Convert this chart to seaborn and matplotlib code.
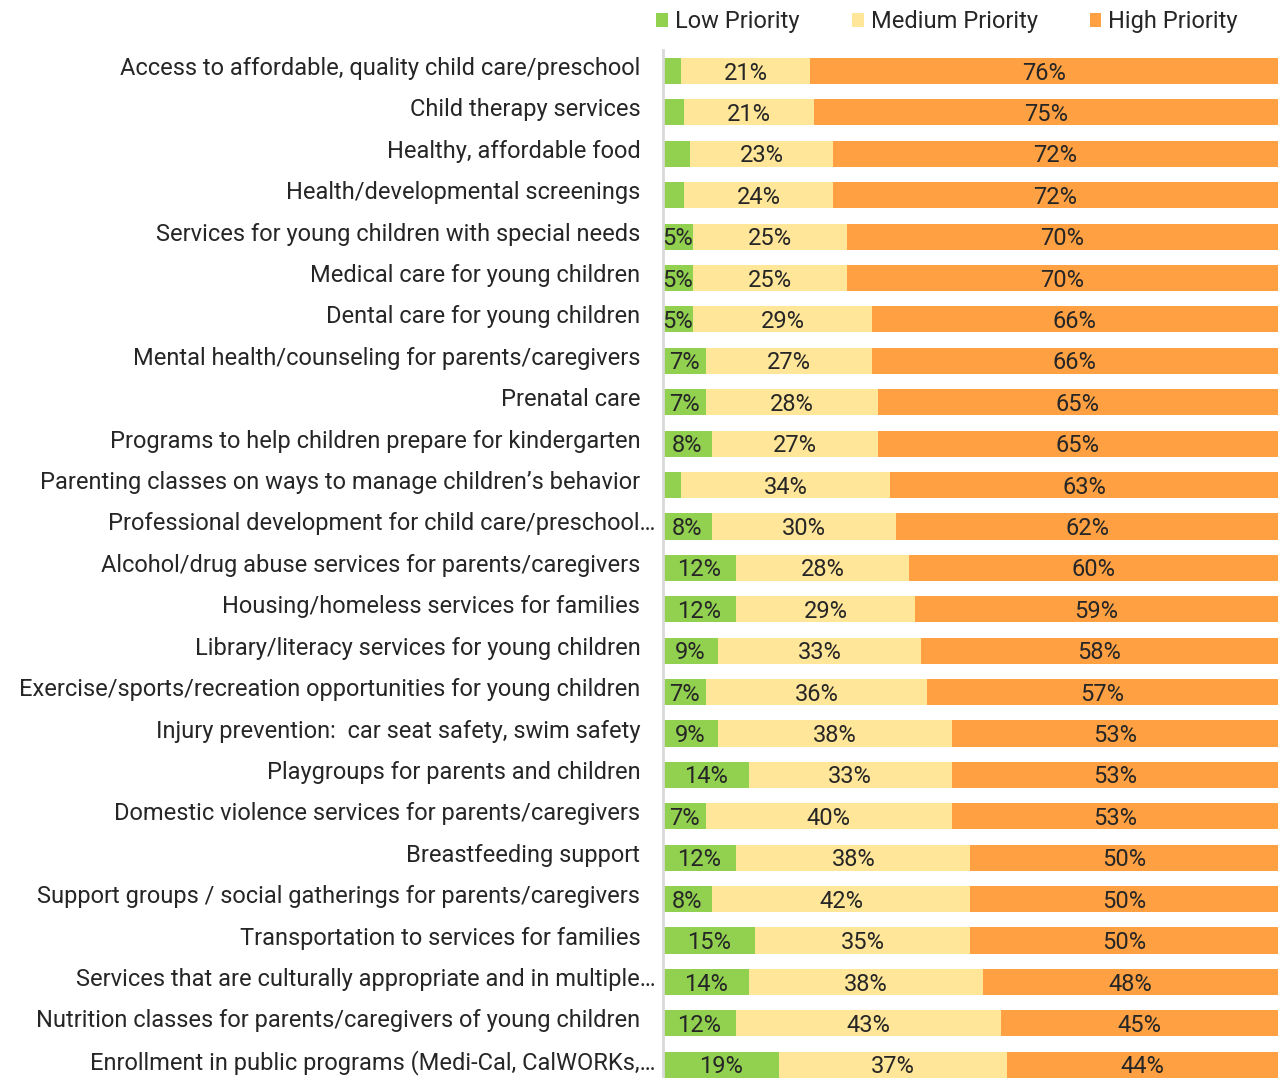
import numpy as np
import pandas as pd
import matplotlib
matplotlib.use("Agg")
import matplotlib.pyplot as plt
import matplotlib.transforms as mtransforms
import seaborn as sns
from matplotlib.patches import Patch

categories = [
    "Access to affordable, quality child care/preschool",
    "Child therapy services",
    "Healthy, affordable food",
    "Health/developmental screenings",
    "Services for young children with special needs",
    "Medical care for young children",
    "Dental care for young children",
    "Mental health/counseling for parents/caregivers",
    "Prenatal care",
    "Programs to help children prepare for kindergarten",
    "Parenting classes on ways to manage children\u2019s behavior",
    "Professional development for child care/preschool\u2026",
    "Alcohol/drug abuse services for parents/caregivers",
    "Housing/homeless services for families",
    "Library/literacy services for young children",
    "Exercise/sports/recreation opportunities for young children",
    "Injury prevention:  car seat safety, swim safety",
    "Playgroups for parents and children",
    "Domestic violence services for parents/caregivers",
    "Breastfeeding support",
    "Support groups / social gatherings for parents/caregivers",
    "Transportation to services for families",
    "Services that are culturally appropriate and in multiple\u2026",
    "Nutrition classes for parents/caregivers of young children",
    "Enrollment in public programs (Medi-Cal, CalWORKs,\u2026",
]
low = [3, 3.5, 4.5, 3.5, 5, 5, 5, 7, 7, 8, 3, 8, 12, 12, 9, 7, 9, 14, 7, 12, 8, 15, 14, 12, 19]
medium = [21, 21, 23, 24, 25, 25, 29, 27, 28, 27, 34, 30, 28, 29, 33, 36, 38, 33, 40, 38, 42, 35, 38, 43, 37]
high = [76, 75, 72, 72, 70, 70, 66, 66, 65, 65, 63, 62, 60, 59, 58, 57, 53, 53, 53, 50, 50, 50, 48, 45, 44]
series_names = ["Low Priority", "Medium Priority", "High Priority"]
colors = ["#92D050", "#FFE699", "#FFA142"]

df = pd.DataFrame({"category": categories, "low": low, "medium": medium, "high": high})
tot = df[["low", "medium", "high"]].sum(axis=1)
df["p_low"] = df["low"] / tot * 100
df["p_med"] = df["medium"] / tot * 100
df["p_high"] = df["high"] / tot * 100
df["c1"] = df["p_low"]
df["c2"] = df["p_low"] + df["p_med"]
df["c3"] = df["c2"] + df["p_high"]

sns.set_style("white")
plt.rcParams["font.family"] = ["Roboto", "DejaVu Sans"]

W, H = 1283, 1078
fig = plt.figure(figsize=(W / 100, H / 100), dpi=100)
ax_left, ax_right = 662.5 / W, 1278 / W
ax_top_px = 50.3
ax = fig.add_axes([ax_left, 0, ax_right - ax_left, (H - ax_top_px) / H])

bw = 0.63
for col, c in zip(["c3", "c2", "c1"], [colors[2], colors[1], colors[0]]):
    sns.barplot(data=df, y="category", x=col, order=categories, orient="h",
                color=c, width=bw, saturation=1, ax=ax, linewidth=0, errorbar=None)

txtc = "#262626"
fs = 17
for i, r in df.iterrows():
    segs = [(0, r["p_low"], r["low"]), (r["c1"], r["p_med"], r["medium"]), (r["c2"], r["p_high"], r["high"])]
    for start, w, v in segs:
        if v >= 5:
            ax.text(start + w / 2, i + 0.05, f"{v:.0f}%", ha="center", va="center",
                    fontsize=fs, color=txtc)

ax.set_xlim(0, 100)
ax.set_ylim(24.32, -0.5)
ax.set_xlabel("")
ax.set_ylabel("")
ax.set_xticks([])
ax.set_yticks(range(len(categories)))
ax.set_yticklabels(categories, fontsize=fs, color=txtc)
ax.tick_params(axis="y", length=0, pad=16)
for lab in ax.get_yticklabels():
    dx = 15 if lab.get_text().endswith("\u2026") else 0
    shift = mtransforms.ScaledTranslation(dx / 100, 5 / 100, fig.dpi_scale_trans)
    lab.set_transform(lab.get_transform() + shift)
for s in ["top", "right", "bottom"]:
    ax.spines[s].set_visible(False)
ax.spines["left"].set_color("#D9D9D9")
ax.spines["left"].set_linewidth(2)

handles = [Patch(facecolor=c, edgecolor="none") for c in colors]
fig.legend(handles, series_names, loc="upper left", bbox_to_anchor=(647 / W, 1 - 1 / H),
           ncol=3, frameon=False, fontsize=fs, handlelength=0.5, handleheight=0.5,
           handletextpad=0.3, columnspacing=2.2, labelcolor=txtc, borderaxespad=0)

fig.savefig("out.png", dpi=100, facecolor="white")
